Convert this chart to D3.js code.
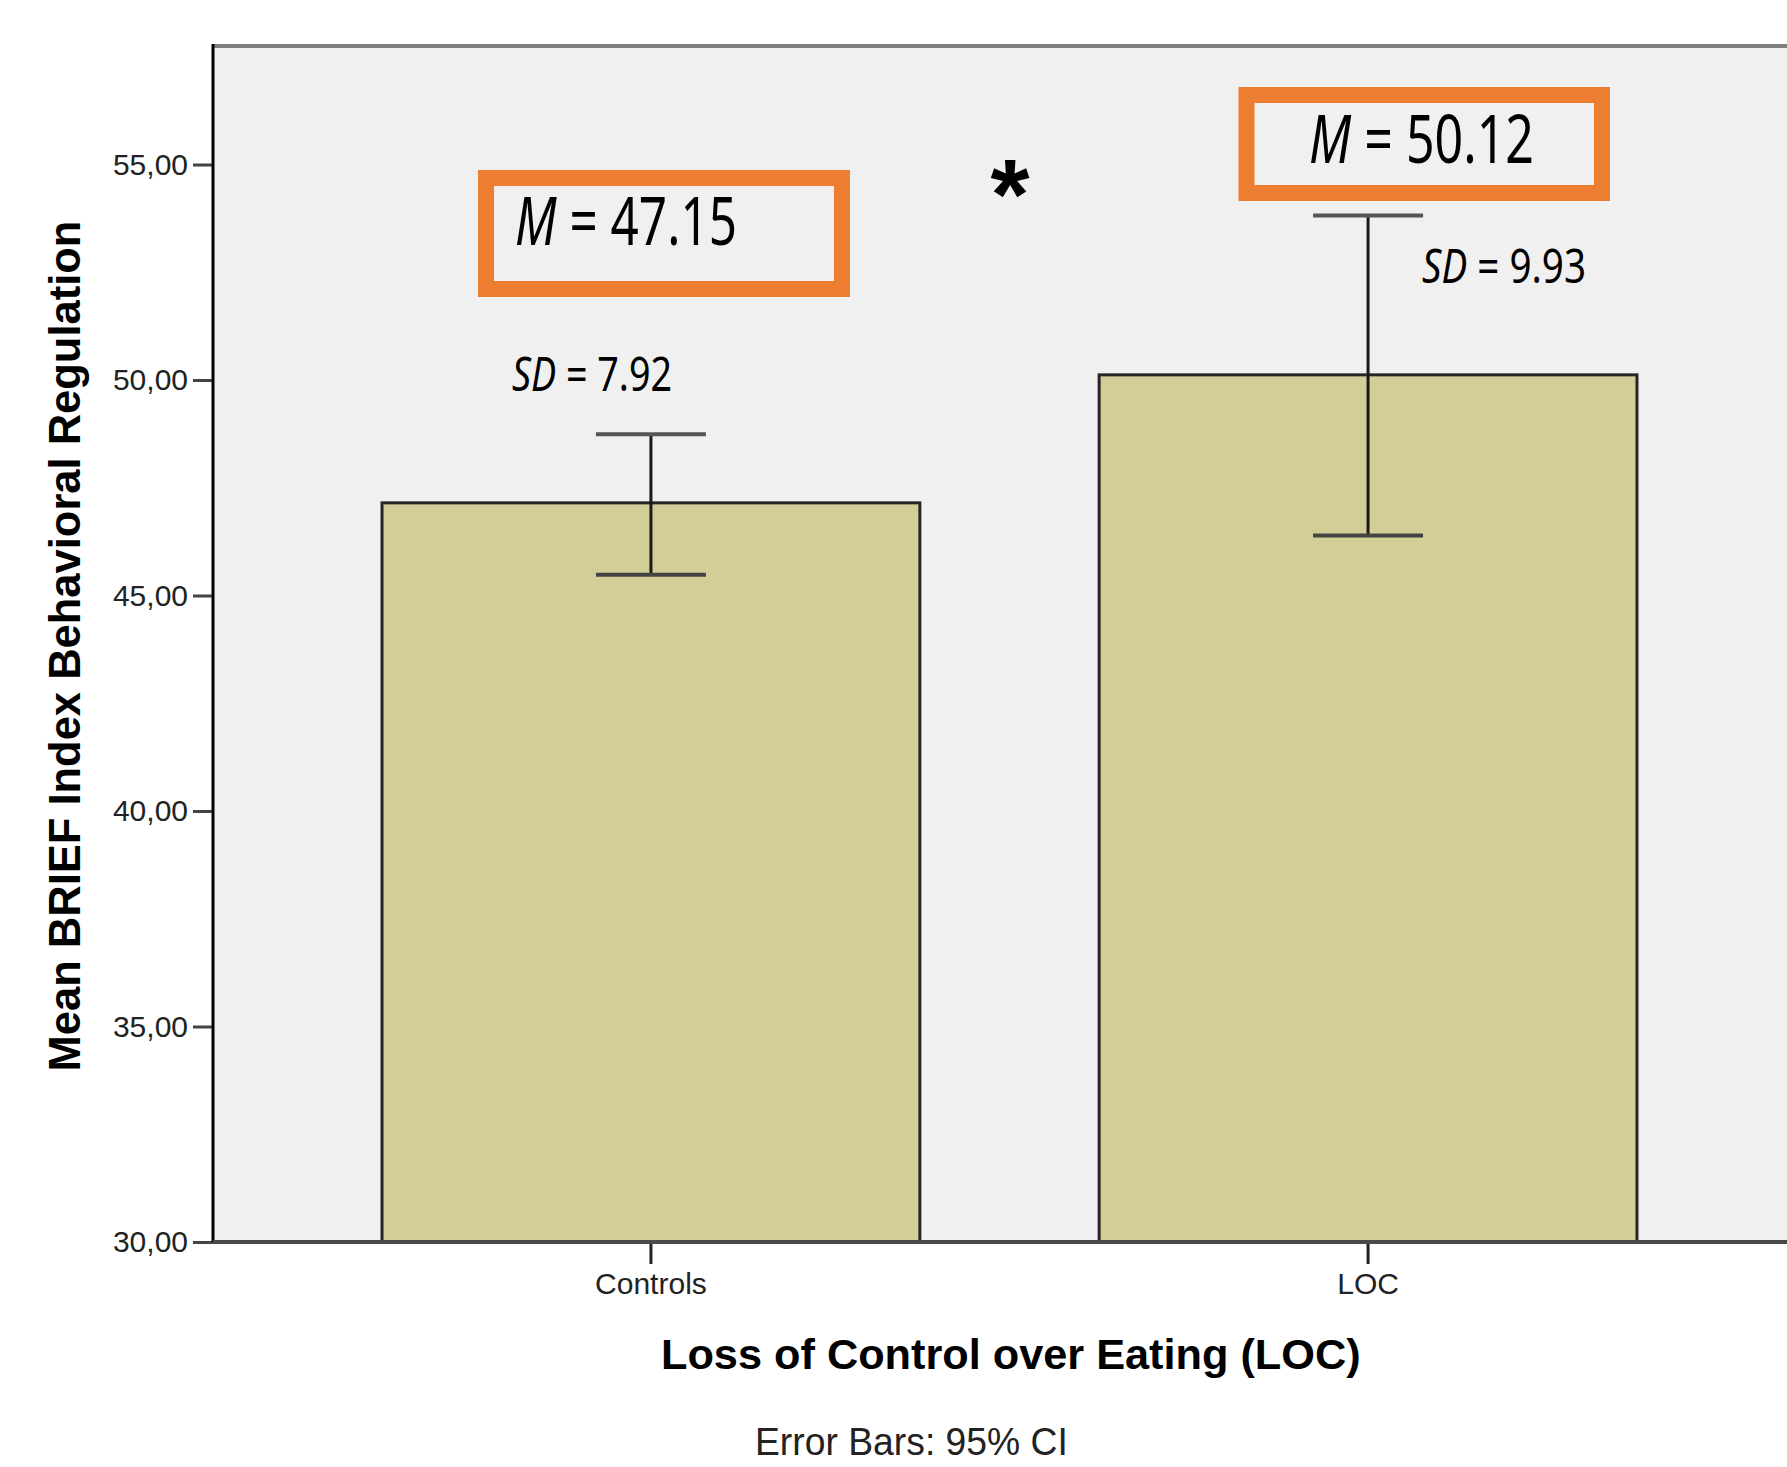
<!DOCTYPE html>
<html>
<head>
<meta charset="utf-8">
<script src="https://cdn.jsdelivr.net/npm/d3@7"></script>
<style>
  html, body { margin: 0; padding: 0; background: #ffffff; }
  svg { display: block; }
</style>
</head>
<body>
<script>
// ---------------- data ----------------
const categories = ["Controls", "LOC"];
const means = [47.15, 50.12];
const ciLower = [45.48, 46.39];
const ciUpper = [48.74, 53.82];
const sds = [7.92, 9.93];
const meanLabels = ["47.15", "50.12"];
const sdLabels = ["7.92", "9.93"];
const yTicks = [30, 35, 40, 45, 50, 55];
const yTickLabels = ["30,00", "35,00", "40,00", "45,00", "50,00", "55,00"];
const yDomain = [30, 57.75];
const yTitle = "Mean BRIEF Index Behavioral Regulation";
const xTitle = "Loss of Control over Eating (LOC)";
const footnote = "Error Bars: 95% CI";

// ---------------- layout ----------------
const W = 1787, H = 1467;
const plotLeft = 213, plotTop = 46, plotBottom = 1242, plotRight = 1806;

const svg = d3.select("body").append("svg").attr("width", W).attr("height", H);

const x = d3.scaleBand().domain(categories).range([plotLeft, plotRight])
  .paddingInner(0.25).paddingOuter(0.2357);
const y = d3.scaleLinear().domain(yDomain).range([plotBottom, plotTop]);

// plot background
svg.append("rect").attr("x", plotLeft).attr("y", plotTop)
  .attr("width", plotRight - plotLeft).attr("height", plotBottom - plotTop)
  .attr("fill", "#f0f0f0");

// bars
svg.selectAll("rect.bar").data(categories).join("rect")
  .attr("class", "bar")
  .attr("x", d => x(d))
  .attr("y", (d, i) => y(means[i]))
  .attr("width", x.bandwidth())
  .attr("height", (d, i) => y(yDomain[0]) - y(means[i]))
  .attr("fill", "#d3ce98")
  .attr("stroke", "#262626").attr("stroke-width", 3);

// error bars
const capHalf = 55;
const eb = svg.selectAll("g.eb").data(categories).join("g").attr("class", "eb");
eb.append("line")
  .attr("x1", d => x(d) + x.bandwidth() / 2).attr("x2", d => x(d) + x.bandwidth() / 2)
  .attr("y1", (d, i) => y(ciLower[i])).attr("y2", (d, i) => y(ciUpper[i]))
  .attr("stroke", "#1a1a1a").attr("stroke-width", 3);
eb.append("line")
  .attr("x1", d => x(d) + x.bandwidth() / 2 - capHalf).attr("x2", d => x(d) + x.bandwidth() / 2 + capHalf)
  .attr("y1", (d, i) => y(ciUpper[i])).attr("y2", (d, i) => y(ciUpper[i]))
  .attr("stroke", "#555").attr("stroke-width", 4);
eb.append("line")
  .attr("x1", d => x(d) + x.bandwidth() / 2 - capHalf).attr("x2", d => x(d) + x.bandwidth() / 2 + capHalf)
  .attr("y1", (d, i) => y(ciLower[i])).attr("y2", (d, i) => y(ciLower[i]))
  .attr("stroke", "#444").attr("stroke-width", 4);

// frame lines
svg.append("line").attr("x1", plotLeft).attr("x2", W).attr("y1", plotTop).attr("y2", plotTop)
  .attr("stroke", "#7f7f7f").attr("stroke-width", 4);

// y axis
const yAxis = svg.append("g").attr("transform", `translate(${plotLeft},0)`)
  .call(d3.axisLeft(y).tickValues(yTicks)
    .tickFormat((d, i) => yTickLabels[i]).tickSize(20).tickPadding(5));
yAxis.select(".domain").remove();
yAxis.selectAll(".tick line").attr("stroke", "#444").attr("stroke-width", 3);
yAxis.selectAll(".tick text").attr("font-family", "'Liberation Sans', Arial, sans-serif")
  .attr("font-size", 30).attr("fill", "#222");

svg.append("line").attr("x1", plotLeft).attr("x2", plotLeft).attr("y1", plotTop - 2).attr("y2", plotBottom)
  .attr("stroke", "#000").attr("stroke-width", 3);

// x axis
const xAxis = svg.append("g").attr("transform", `translate(0,${plotBottom})`)
  .call(d3.axisBottom(x).tickSize(22).tickPadding(11));
xAxis.select(".domain").remove();
xAxis.selectAll(".tick line").attr("stroke", "#222").attr("stroke-width", 3);
xAxis.selectAll(".tick text").attr("font-family", "'Liberation Sans', Arial, sans-serif")
  .attr("font-size", 30).attr("fill", "#222").attr("dy", "0.62em");

svg.append("line").attr("x1", plotLeft).attr("x2", W).attr("y1", plotBottom).attr("y2", plotBottom)
  .attr("stroke", "#4a4a4a").attr("stroke-width", 4);

// helper: scale text horizontally to a target width
function fitWidth(t, tx, ty, targetW, extra) {
  const w = t.node().getComputedTextLength();
  const k = targetW / w;
  t.attr("transform", `translate(${tx},${ty}) ${extra || ""} scale(${k},1)`);
}

// axis titles
const yt = svg.append("text").text(yTitle)
  .attr("font-family", "'Liberation Sans', Arial, sans-serif").attr("font-weight", "bold")
  .attr("font-size", 44).attr("text-anchor", "middle").attr("fill", "#000");
fitWidth(yt, 80, 646, 851, "rotate(-90)");

const xt = svg.append("text").text(xTitle)
  .attr("font-family", "'Liberation Sans', Arial, sans-serif").attr("font-weight", "bold")
  .attr("font-size", 43).attr("fill", "#000");
fitWidth(xt, 661, 1369, 700);

const fn = svg.append("text").text(footnote)
  .attr("font-family", "'Liberation Sans', Arial, sans-serif")
  .attr("font-size", 38).attr("fill", "#222");
fitWidth(fn, 755, 1455, 313);

// annotation boxes
const boxes = [
  { x: 486, y: 178, w: 356, h: 111, tx: 515, ty: 245, tw: 222, sx: 512, sy: 391, sw: 160 },
  { x: 1246.5, y: 95, w: 355.5, h: 98, tx: 1309, ty: 163, tw: 225, sx: 1422, sy: 283, sw: 164 }
];
const annFont = "'Noto Sans', 'Open Sans', sans-serif";
boxes.forEach((b, i) => {
  svg.append("rect").attr("x", b.x).attr("y", b.y).attr("width", b.w).attr("height", b.h)
    .attr("fill", "none").attr("stroke", "#ed7d31").attr("stroke-width", 16);
  const mt = svg.append("text").attr("font-family", annFont).attr("font-size", 67).attr("fill", "#000");
  mt.append("tspan").attr("font-style", "italic").text("M");
  mt.append("tspan").text(" = " + meanLabels[i]);
  fitWidth(mt, b.tx, b.ty, b.tw);
  const st = svg.append("text").attr("font-family", annFont).attr("font-size", 47).attr("fill", "#000");
  st.append("tspan").attr("font-style", "italic").text("SD");
  st.append("tspan").text(" = " + sdLabels[i]);
  fitWidth(st, b.sx, b.sy, b.sw);
});

// significance asterisk
const ast = svg.append("text").text("*")
  .attr("font-family", "'Liberation Sans', Arial, sans-serif").attr("font-weight", "bold")
  .attr("font-size", 110).attr("fill", "#000").attr("x", 0).attr("y", 0);
(function () {
  const b2 = ast.node().getBBox();
  const inkTop = b2.y + b2.height * 0.12;
  const inkH = b2.height * 0.33;
  const s = 37 / inkH;
  const cx = b2.x + b2.width / 2;
  const cy = inkTop + inkH / 2;
  ast.attr("transform", `translate(${1010 - cx * s},${170 - cy * s}) scale(${s})`);
})();
</script>
</body>
</html>
